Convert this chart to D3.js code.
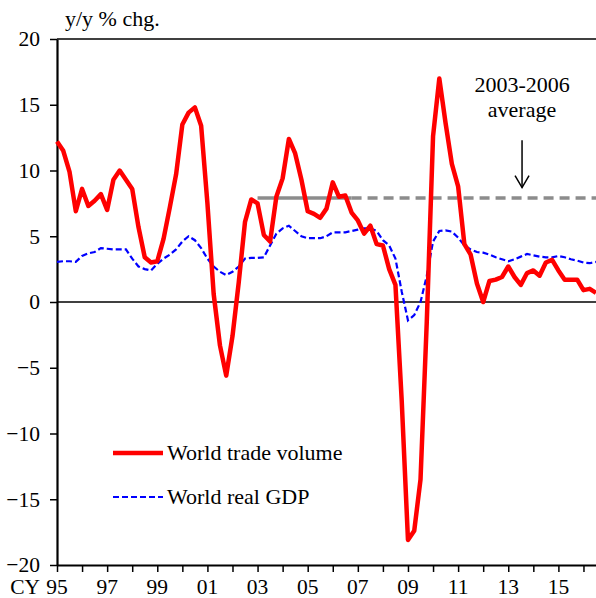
<!DOCTYPE html>
<html>
<head>
<meta charset="utf-8">
<script src="https://cdn.jsdelivr.net/npm/d3@7"></script>
<style>
  body { margin: 0; background: #fff; }
  svg text { font-family: "Liberation Serif", "Times New Roman", serif; fill: #000; }
</style>
</head>
<body>
<div id="chart"></div>
<script>
var width = 596, height = 598,
    margin = {top: 39, right: 0, bottom: 33, left: 57};

// quarterly, 1995Q1 .. 2016Q3
var startYear = 1995;
var trade = [12.2, 11.5, 9.9, 6.9, 8.6, 7.3, 7.7, 8.2, 7.0, 9.3, 10.0, 9.3, 8.6, 5.7, 3.4, 3.0,
  3.1, 4.8, 7.2, 9.7, 13.5, 14.4, 14.8, 13.4, 7.5, 0.6, -3.3, -5.6, -2.6, 1.5, 6.1, 7.8,
  7.5, 5.1, 4.6, 8.0, 9.4, 12.4, 11.3, 9.3, 6.9, 6.7, 6.4, 7.1, 9.1, 8.0, 8.1, 6.8,
  6.2, 5.2, 5.8, 4.4, 4.3, 2.5, 1.3, -7.5, -18.1, -17.4, -13.5, -1.5, 12.6, 17.0,
  13.6, 10.5, 8.8, 4.4, 3.6, 1.4, 0.0, 1.6, 1.7, 1.9, 2.7, 1.9, 1.3, 2.2,
  2.4, 2.0, 3.0, 3.2, 2.4, 1.7, 1.7, 1.7, 0.9, 1.0, 0.7];
var gdp = [3.05, 3.1, 3.1, 3.05, 3.5, 3.7, 3.8, 4.1, 4.05, 4.0, 4.0, 4.0, 3.3, 2.7, 2.5, 2.4,
  2.9, 3.3, 3.6, 4.0, 4.6, 5.0, 4.7, 4.1, 3.3, 2.7, 2.3, 2.05, 2.3, 2.7, 3.3, 3.35,
  3.35, 3.4, 4.3, 5.2, 5.6, 5.8, 5.4, 5.0, 4.85, 4.85, 4.85, 5.0, 5.3, 5.3, 5.3, 5.4,
  5.5, 5.6, 5.6, 5.4, 4.7, 4.3, 3.3, 0.8, -1.4, -1.0, 0.0, 2.0, 4.6, 5.4,
  5.45, 5.35, 4.9, 4.3, 4.0, 3.8, 3.75, 3.6, 3.4, 3.25, 3.1, 3.25, 3.45, 3.65,
  3.55, 3.45, 3.4, 3.4, 3.5, 3.4, 3.25, 3.15, 3.0, 2.95, 3.05];
var avg0306 = 7.9, avgFrom = 2003, avgTo = 2006.75;
var yTicks = [-20, -15, -10, -5, 0, 5, 10, 15, 20];
var xTickYears = d3.range(1995, 2017);
var xLabelYears = d3.range(1995, 2017, 2);

var svg = d3.select("#chart").append("svg")
    .attr("width", width)
    .attr("height", height);

var x = d3.scaleLinear()
    .domain([startYear, startYear + (trade.length - 1) / 4])
    .range([margin.left, width - margin.right]);

var y = d3.scaleLinear()
    .domain([-20, 20])
    .range([height - margin.bottom, margin.top]);

function t(i) { return startYear + i / 4; }

// top frame
svg.append("line")
    .attr("x1", x.range()[0]).attr("x2", x.range()[1])
    .attr("y1", y(20)).attr("y2", y(20))
    .attr("stroke", "#000").attr("stroke-width", 1.5);

// zero line
svg.append("line")
    .attr("x1", x.range()[0]).attr("x2", x.range()[1])
    .attr("y1", y(0)).attr("y2", y(0))
    .attr("stroke", "#000").attr("stroke-width", 1.5);

// y axis
var yAxis = svg.append("g")
    .attr("transform", "translate(" + margin.left + ",0)")
    .call(d3.axisLeft(y).tickValues(yTicks).tickSize(7).tickSizeOuter(0).tickPadding(10));
yAxis.select(".domain").attr("stroke", "#000").attr("stroke-width", 2.2);
yAxis.selectAll(".tick line").attr("stroke", "#000").attr("stroke-width", 1.5);
yAxis.selectAll(".tick text").attr("font-size", 21.5).style("font-family", '"Liberation Serif", serif');

// x axis
var xAxis = svg.append("g")
    .attr("transform", "translate(0," + y(-20) + ")")
    .call(d3.axisBottom(x).tickValues(xTickYears).tickSize(7).tickSizeOuter(0).tickFormat(""));
xAxis.select(".domain").attr("stroke", "#000").attr("stroke-width", 2);
xAxis.selectAll(".tick line").attr("stroke", "#000").attr("stroke-width", 1.5);

svg.append("g").selectAll("text")
    .data(xLabelYears)
  .enter().append("text")
    .attr("x", function(d) { return x(d); })
    .attr("y", y(-20) + 29)
    .attr("text-anchor", "middle")
    .attr("font-size", 21.5)
    .text(function(d) { return d3.format("02")(d % 100); });

svg.append("text")
    .attr("x", x(1995) - 17)
    .attr("y", y(-20) + 29)
    .attr("text-anchor", "end")
    .attr("font-size", 21.5)
    .text("CY");

svg.append("text")
    .attr("x", 65)
    .attr("y", 26)
    .attr("font-size", 22)
    .text("y/y % chg.");

// 2003-2006 average line
svg.append("line")
    .attr("x1", x(avgFrom)).attr("x2", x(avgTo))
    .attr("y1", y(avg0306)).attr("y2", y(avg0306))
    .attr("stroke", "#8c8c8c").attr("stroke-width", 3.5);
svg.append("line")
    .attr("x1", x(avgTo)).attr("x2", x.range()[1])
    .attr("y1", y(avg0306)).attr("y2", y(avg0306))
    .attr("stroke", "#8c8c8c").attr("stroke-width", 3.5)
    .attr("stroke-dasharray", "10,6");

var line = d3.line()
    .x(function(d, i) { return x(t(i)); })
    .y(function(d) { return y(d); });

svg.append("path")
    .datum(gdp)
    .attr("d", line)
    .attr("fill", "none")
    .attr("stroke", "#0000ff")
    .attr("stroke-width", 2.2)
    .attr("stroke-dasharray", "6,3");

svg.append("path")
    .datum(trade)
    .attr("d", line)
    .attr("fill", "none")
    .attr("stroke", "#ff0000")
    .attr("stroke-width", 4.5)
    .attr("stroke-linejoin", "round");

// annotation
var ax = x(2013.55);
svg.append("text")
    .attr("x", ax).attr("y", y(16.0))
    .attr("text-anchor", "middle").attr("font-size", 22)
    .text("2003-2006");
svg.append("text")
    .attr("x", ax).attr("y", y(14.1))
    .attr("text-anchor", "middle").attr("font-size", 22)
    .text("average");
svg.append("line")
    .attr("x1", ax).attr("x2", ax)
    .attr("y1", y(12.3)).attr("y2", y(8.7))
    .attr("stroke", "#000").attr("stroke-width", 1.5);
svg.append("path")
    .attr("d", "M" + (ax - 7) + "," + (y(8.7) - 12) + "L" + ax + "," + y(8.7) + "L" + (ax + 7) + "," + (y(8.7) - 12))
    .attr("fill", "none").attr("stroke", "#000").attr("stroke-width", 1.5);

// legend
var legend = [
  {label: "World trade volume", color: "#ff0000", w: 4.5, dash: null, yy: 453},
  {label: "World real GDP", color: "#0000ff", w: 2.2, dash: "6,3", yy: 497}
];
var lg = svg.append("g").selectAll("g").data(legend).enter().append("g");
lg.append("line")
    .attr("x1", 113).attr("x2", 163)
    .attr("y1", function(d) { return d.yy; }).attr("y2", function(d) { return d.yy; })
    .attr("stroke", function(d) { return d.color; })
    .attr("stroke-width", function(d) { return d.w; })
    .attr("stroke-dasharray", function(d) { return d.dash; });
lg.append("text")
    .attr("x", 167)
    .attr("y", function(d) { return d.yy + 7; })
    .attr("font-size", 22)
    .text(function(d) { return d.label; });
</script>
</body>
</html>
